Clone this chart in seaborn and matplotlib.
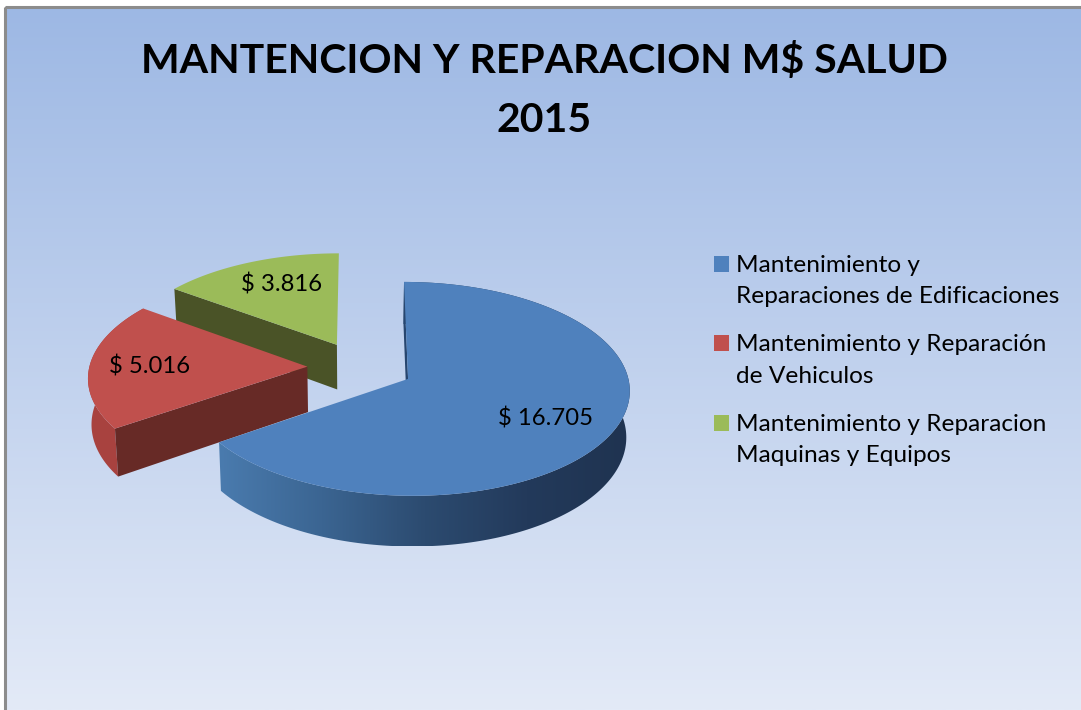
import numpy as np
import matplotlib
matplotlib.use("Agg")
import matplotlib.pyplot as plt
import seaborn as sns
from matplotlib.colors import LinearSegmentedColormap
from matplotlib.patches import Patch, Polygon, Rectangle

# Data
categories = [
    "Mantenimiento y\nReparaciones de Edificaciones",
    "Mantenimiento y Reparación\nde Vehiculos",
    "Mantenimiento y Reparacion\nMaquinas y Equipos",
]
values = [16705, 5016, 3816]
title = "MANTENCION Y REPARACION M$ SALUD\n2015"

colors = ["#4F81BD", "#C0504D", "#9BBB59"]
face_colors = ["#27466F", "#672A26", "#4A5327"]

# perspective of the pie plane, in pixels
CX, CY, A, B, K = 360.5, 367.0, 218.0, 103.8, 0.092
DEPTH = 45.5
SHRINK = 0.987
WIDTH, HEIGHT = 1081, 710


def project(u, v, lower=False):
    w = 1 + K * np.asarray(v)
    x = CX + A * np.asarray(u) / w
    y = CY - B * np.asarray(v) / w
    if lower:
        x = CX + (x - CX) * SHRINK
        y = y + DEPTH / w
    return x, y


def arc_points(wedge):
    t = np.radians(np.linspace(wedge.theta1, wedge.theta2, 240))
    return wedge.center[0] + wedge.r * np.cos(t), wedge.center[1] + wedge.r * np.sin(t)


def add_poly(ax, x, y, color, z):
    poly = Polygon(np.column_stack([x, y]), closed=True, facecolor=color, edgecolor="none", zorder=z)
    ax.add_patch(poly)
    return poly


sns.set_theme(style="white")
plt.rcParams["font.family"] = ["Lato", "DejaVu Sans"]

fig, ax = plt.subplots(figsize=(WIDTH / 100, HEIGHT / 100), dpi=100)
fig.patch.set_facecolor("white")
ax.set_position([0, 0, 1, 1])

wedges, _ = ax.pie(values, explode=[0.244] * 3, startangle=90, counterclock=False,
                   colors=colors, radius=1)
ax.set_aspect("auto")

# background
bg = LinearSegmentedColormap.from_list("bg", ["#9DB8E4", "#E3EAF7"])
ax.imshow(np.linspace(0, 1, 256).reshape(-1, 1), cmap=bg, aspect="auto",
          extent=(5, WIDTH, HEIGHT, 7), zorder=0)
ax.add_patch(Rectangle((4.5, 6.5), WIDTH, HEIGHT, facecolor="none", edgecolor="#8C8C8C",
                       linewidth=2.2, zorder=1))

side = LinearSegmentedColormap.from_list(
    "side", ["#4A7BAE", "#3B6592", "#2C4B70", "#233A5B", "#1F3350"])

# slices are drawn back to front: green, red, blue
for i in [2, 1, 0]:
    w = wedges[i]
    w.set_visible(False)
    z = 5 + (2 - i) * 5
    u, v = arc_points(w)
    cu, cv = w.center
    xt, yt = project(u, v)
    xb, yb = project(u, v, lower=True)

    # cut face at the end of the slice
    x0, y0 = project(cu, cv)
    x0b, y0b = project(cu, cv, lower=True)
    add_poly(ax, [x0, xt[-1], xb[-1], x0b], [y0, yt[-1], yb[-1], y0b], face_colors[i], z + 1)

    # outer rim, the green one faces away
    xs = np.r_[xt, xb[::-1]]
    ys = np.r_[yt, yb[::-1]]
    if i == 0:
        rim = add_poly(ax, xs, ys, "none", z)
        im = ax.imshow(np.linspace(0, 1, 256).reshape(1, -1), cmap=side, aspect="auto",
                       extent=(xs.min(), xs.max(), ys.max(), ys.min()), zorder=z)
        im.set_clip_path(rim)
    elif i == 1:
        add_poly(ax, xs, ys, "#A8423F", z)

    # top of the slice
    add_poly(ax, np.r_[x0, xt], np.r_[y0, yt], colors[i], z + 2)

ax.set_xlim(0, WIDTH)
ax.set_ylim(HEIGHT, 0)

# value labels
label_pos = [(546, 418), (150, 366), (282, 284)]
for val, (lx, ly) in zip(values, label_pos):
    ax.text(lx, ly, f"$ {val:,}".replace(",", "."), ha="center", va="center",
            fontsize=17.2, color="black", zorder=30)

ax.text(544.5, 90.5, title, ha="center", va="center", fontsize=29.5, fontweight="bold",
        color="black", linespacing=1.7, zorder=30)

handles = [Patch(facecolor=c, edgecolor="none") for c in colors]
leg = ax.legend(handles, categories, loc="upper left", bbox_to_anchor=(714, 255),
                bbox_transform=ax.transData, frameon=False, fontsize=17.6, labelcolor="black",
                handlelength=0.62, handleheight=0.62, handletextpad=0.29,
                labelspacing=1.11, borderpad=0, borderaxespad=0)
for t in leg.get_texts():
    t.set_linespacing(1.6)
# squares sit on the first line of each entry
for h in leg.legend_handles:
    h.set_y(h.get_y() + 12.2)

plt.savefig("out.png", dpi=100)
